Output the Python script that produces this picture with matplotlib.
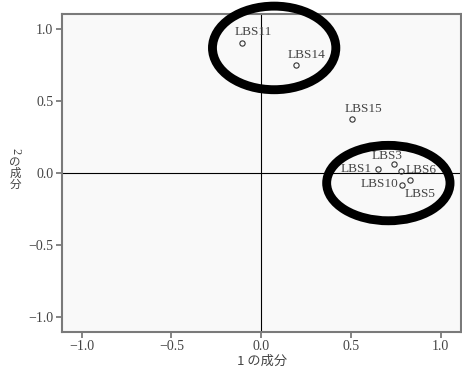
import matplotlib
matplotlib.use("Agg")
import matplotlib.pyplot as plt
from matplotlib.patches import Ellipse

# data
labels = ["LBS11", "LBS14", "LBS15", "LBS3", "LBS1", "LBS6", "LBS10", "LBS5"]
comp1 = [-0.109, 0.194, 0.506, 0.740, 0.649, 0.779, 0.786, 0.831]
comp2 = [0.907, 0.752, 0.374, 0.063, 0.028, 0.014, -0.084, -0.049]
ticks = [-1.0, -0.5, 0.0, 0.5, 1.0]
tick_labels = ["\u22121.0", "\u22120.5", "0.0", "0.5", "1.0"]

# label placement (pixel offsets, ha)
label_style = {
    "LBS11": (-6.7, 10.7, "left"),
    "LBS14": (-8, 10, "left"),
    "LBS15": (-7.7, 10.3, "left"),
    "LBS3": (-22.3, 8.3, "left"),
    "LBS1": (-6, 0, "right"),
    "LBS6": (4.7, 1.3, "left"),
    "LBS10": (-4, 0.7, "right"),
    "LBS5": (-6, -14, "left"),
}

serif = ["Liberation Serif", "Noto Sans CJK JP"]
cjk = ["Noto Sans CJK JP", "Liberation Serif"]
txt_color = "#444444"

fig = plt.figure(figsize=(4.62, 3.72), dpi=100)
fig.patch.set_facecolor("white")
ax = fig.add_axes([0.1336, 0.1075, 0.8636, 0.8548])
ax.set_facecolor("#f9f9f9")
ax.set_xlim(-1.111, 1.111)
ax.set_ylim(-1.107, 1.107)

ax.axhline(0, color="black", lw=0.8, zorder=1)
ax.axvline(0, color="black", lw=0.8, zorder=1)

ax.plot(comp1, comp2, linestyle="none", marker="o", markersize=3.8,
        markerfacecolor="none", markeredgecolor="#333333", markeredgewidth=0.8, zorder=3)

for lab, x, y in zip(labels, comp1, comp2):
    dx, dy, ha = label_style[lab]
    ax.annotate(lab, (x, y), xytext=(dx, dy), textcoords="offset pixels",
                ha=ha, va="center", fontsize=9.5, family=serif, color=txt_color, zorder=4)

# highlight ellipses
ax.add_patch(Ellipse((0.072, 0.871), 0.687, 0.582, fill=False, lw=6.4,
                     edgecolor="black", clip_on=False, zorder=5))
ax.add_patch(Ellipse((0.708, -0.070), 0.687, 0.525, fill=False, lw=6.4,
                     edgecolor="black", clip_on=False, zorder=5))

ax.set_xticks(ticks)
ax.set_xticklabels(tick_labels)
ax.set_yticks(ticks)
ax.set_yticklabels(tick_labels)
for t in ax.get_xticklabels() + ax.get_yticklabels():
    t.set_family(serif)
    t.set_fontsize(10)
    t.set_color(txt_color)
ax.tick_params(direction="out", length=4, width=1.2, color="#707070", pad=2)
for s in ax.spines.values():
    s.set_color("#7a7a7a")
    s.set_linewidth(1.5)

# x label
fig.text(262 / 462, 1 - 361.7 / 372, "1 の成分", ha="center", va="center",
         fontsize=9.5, family=cjk, color=txt_color)
# vertical y label: rotated digit followed by stacked kana/kanji
fig.text(15 / 462, 1 - 151.5 / 372, "2", ha="center", va="center", rotation=-90,
         fontsize=9, family=serif, color=txt_color)
fig.text(15 / 462, 1 - 173.5 / 372, "の\n成\n分", ha="center", va="center",
         fontsize=8.3, family=cjk, color=txt_color, linespacing=0.78,
         multialignment="center")

fig.savefig("out.png", dpi=100)
